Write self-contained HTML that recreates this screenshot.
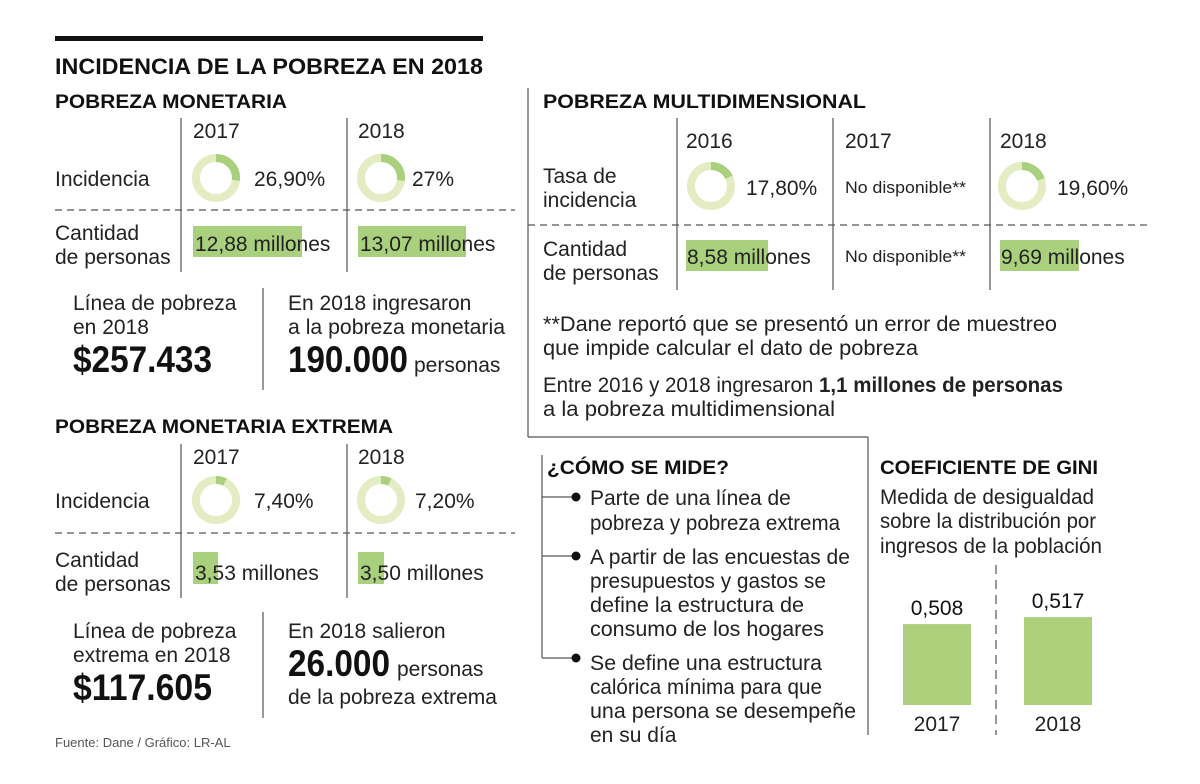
<!DOCTYPE html>
<html><head><meta charset="utf-8"><style>
html,body{margin:0;padding:0;background:#fff;}
svg{display:block;font-family:"Liberation Sans",sans-serif;}
.t{font-size:21px;fill:#222;}
.b{font-weight:bold;fill:#111;}
</style></head><body>
<svg id="g" width="1200" height="784" viewBox="0 0 1200 784">
<rect x="55" y="36" width="428" height="5" fill="#111"/>
<text class="b" x="55" y="74" font-size="22" textLength="428" lengthAdjust="spacingAndGlyphs">INCIDENCIA DE LA POBREZA EN 2018</text>
<text class="b" x="55" y="108" font-size="19" textLength="232" lengthAdjust="spacingAndGlyphs">POBREZA MONETARIA</text>
<g stroke="#555" stroke-width="1.2">
<line x1="181" y1="118" x2="181" y2="272"/><line x1="347" y1="118" x2="347" y2="272"/>
<line x1="55" y1="210" x2="515" y2="210" stroke-dasharray="7,5"/>
<line x1="263" y1="288" x2="263" y2="390"/>
<line x1="181" y1="444" x2="181" y2="598"/><line x1="347" y1="444" x2="347" y2="598"/>
<line x1="55" y1="533" x2="515" y2="533" stroke-dasharray="7,5"/>
<line x1="263" y1="612" x2="263" y2="718"/>
<line x1="528" y1="88" x2="528" y2="437"/><line x1="528" y1="437" x2="868" y2="437"/><line x1="868" y1="437" x2="868" y2="735"/>
<line x1="677" y1="118" x2="677" y2="290"/><line x1="833" y1="118" x2="833" y2="290"/><line x1="990" y1="118" x2="990" y2="290"/>
<line x1="528" y1="225" x2="1150" y2="225" stroke-dasharray="7,5"/>
<line x1="542" y1="455" x2="542" y2="658"/>
<line x1="542" y1="497" x2="572" y2="497"/><line x1="542" y1="556" x2="572" y2="556"/><line x1="542" y1="658" x2="572" y2="658"/>
<line x1="996" y1="565" x2="996" y2="735" stroke-dasharray="9,6"/>
</g>
<g fill="#111"><circle cx="576" cy="497" r="4.5"/><circle cx="576" cy="556" r="4.5"/><circle cx="576" cy="658" r="4.5"/></g>
<g id="hl" fill="#a9d07c"></g>
<g id="donuts"></g>
<g id="gini"></g>
<g class="t">
<text x="193" y="138">2017</text><text x="358" y="138">2018</text>
<text x="55" y="186">Incidencia</text>
<text x="254" y="186">26,90%</text><text x="412" y="186">27%</text>
<text x="55" y="240">Cantidad</text><text x="55" y="264">de personas</text>
<text x="195" y="251">12,88 millones</text><text x="360" y="251">13,07 millones</text>
<text x="73" y="310">Línea de pobreza</text><text x="73" y="334">en 2018</text>
<text x="73" y="372" font-size="37" font-weight="bold" fill="#111" textLength="139" lengthAdjust="spacingAndGlyphs">$257.433</text>
<text x="288" y="310">En 2018 ingresaron</text><text x="288" y="334" textLength="217" lengthAdjust="spacingAndGlyphs">a la pobreza monetaria</text>
<text x="288" y="372" font-size="37" font-weight="bold" fill="#111" textLength="120" lengthAdjust="spacingAndGlyphs">190.000</text>
<text x="414" y="372">personas</text>
<text x="193" y="464">2017</text><text x="358" y="464">2018</text>
<text x="55" y="508">Incidencia</text>
<text x="254" y="508">7,40%</text><text x="415" y="508">7,20%</text>
<text x="55" y="567">Cantidad</text><text x="55" y="591">de personas</text>
<text x="195" y="580">3,53 millones</text><text x="360" y="580">3,50 millones</text>
<text x="73" y="638">Línea de pobreza</text><text x="73" y="662">extrema en 2018</text>
<text x="73" y="700" font-size="37" font-weight="bold" fill="#111" textLength="139" lengthAdjust="spacingAndGlyphs">$117.605</text>
<text x="288" y="638">En 2018 salieron</text>
<text x="288" y="676" font-size="37" font-weight="bold" fill="#111" textLength="102" lengthAdjust="spacingAndGlyphs">26.000</text>
<text x="397" y="676">personas</text>
<text x="288" y="704">de la pobreza extrema</text>
<text x="686" y="148">2016</text><text x="845" y="148">2017</text><text x="1000" y="148">2018</text>
<text x="543" y="183">Tasa de</text><text x="543" y="207">incidencia</text>
<text x="746" y="195">17,80%</text><text x="1057" y="195">19,60%</text>
<text x="845" y="193" font-size="17" textLength="121" lengthAdjust="spacingAndGlyphs">No disponible**</text>
<text x="543" y="256">Cantidad</text><text x="543" y="280">de personas</text>
<text x="687" y="264">8,58 millones</text><text x="1001" y="264">9,69 millones</text>
<text x="845" y="262" font-size="17" textLength="121" lengthAdjust="spacingAndGlyphs">No disponible**</text>
<text x="543" y="331" textLength="514" lengthAdjust="spacingAndGlyphs">**Dane reportó que se presentó un error de muestreo</text>
<text x="543" y="355" textLength="375" lengthAdjust="spacingAndGlyphs">que impide calcular el dato de pobreza</text>
<text x="543" y="392" textLength="520" lengthAdjust="spacingAndGlyphs">Entre 2016 y 2018 ingresaron <tspan font-weight="bold">1,1 millones de personas</tspan></text>
<text x="543" y="416" textLength="292" lengthAdjust="spacingAndGlyphs">a la pobreza multidimensional</text>
<text x="590" y="505">Parte de una línea de</text>
<text x="590" y="530" textLength="250" lengthAdjust="spacingAndGlyphs">pobreza y pobreza extrema</text>
<text x="590" y="564" textLength="260" lengthAdjust="spacingAndGlyphs">A partir de las encuestas de</text>
<text x="590" y="588" textLength="236" lengthAdjust="spacingAndGlyphs">presupuestos y gastos se</text>
<text x="590" y="612" textLength="214" lengthAdjust="spacingAndGlyphs">define la estructura de</text>
<text x="590" y="636" textLength="234" lengthAdjust="spacingAndGlyphs">consumo de los hogares</text>
<text x="590" y="670" textLength="232" lengthAdjust="spacingAndGlyphs">Se define una estructura</text>
<text x="590" y="694" textLength="232" lengthAdjust="spacingAndGlyphs">calórica mínima para que</text>
<text x="590" y="718" textLength="266" lengthAdjust="spacingAndGlyphs">una persona se desempeñe</text>
<text x="590" y="742">en su día</text>
<text x="880" y="504" textLength="214" lengthAdjust="spacingAndGlyphs">Medida de desigualdad</text>
<text x="880" y="528" textLength="216" lengthAdjust="spacingAndGlyphs">sobre la distribución por</text>
<text x="880" y="553" textLength="222" lengthAdjust="spacingAndGlyphs">ingresos de la población</text>
</g>
<text class="b" x="55" y="433" font-size="19" textLength="338" lengthAdjust="spacingAndGlyphs">POBREZA MONETARIA EXTREMA</text>
<text class="b" x="543" y="108" font-size="19" textLength="323" lengthAdjust="spacingAndGlyphs">POBREZA MULTIDIMENSIONAL</text>
<text class="b" x="547" y="474" font-size="19" textLength="182" lengthAdjust="spacingAndGlyphs">¿CÓMO SE MIDE?</text>
<text class="b" x="880" y="474" font-size="19" textLength="218" lengthAdjust="spacingAndGlyphs">COEFICIENTE DE GINI</text>
<text x="55" y="747" font-size="13" fill="#555">Fuente: Dane / Gráfico: LR-AL</text>
</svg>
<script>
const donutValues = [26.9, 27, 7.4, 7.2, 17.8, 19.6];
const donutCx = [216, 381, 216, 381, 711, 1022];
const donutCy = [178, 178, 500, 500, 186, 186];
const giniYears = ["2017", "2018"];
const giniValues = [0.508, 0.517];
const giniLabels = ["0,508", "0,517"];
const NS = "http://www.w3.org/2000/svg";
function mk(tag, attrs, parent){const e=document.createElementNS(NS,tag);for(const k in attrs)e.setAttribute(k,attrs[k]);parent.appendChild(e);return e;}
const dg=document.getElementById('donuts');
donutValues.forEach((v,i)=>{
  const r=20, cx=donutCx[i], cy=donutCy[i];
  const c=mk('circle',{cx:cx,cy:cy,r:r,fill:'none',stroke:'#e3ecc2','stroke-width':8},dg);
  
  
  const a=v/100*2*Math.PI;
  const x2=cx+r*Math.sin(a), y2=cy-r*Math.cos(a);
  const p=mk('path',{d:`M${cx},${cy-r} A${r},${r} 0 ${a>Math.PI?1:0} 1 ${x2},${y2}`,fill:'none',stroke:'#a9d07c','stroke-width':8},dg);
  
  
});
const hl=document.getElementById('hl');
[[193,226,109,31],[358,226,108,31],[193,552,25,32],[358,552,26,32],[686,240,82,31],[1000,240,79,31]].forEach(r=>{
  const e=mk('rect',{x:r[0],y:r[1],width:r[2],height:r[3]},hl);
  
  
});
const gg=document.getElementById('gini');
const base=705, yMin=0.404, pxPer=778;
const yScale=v=>base-(v-yMin)*pxPer;
const xPos=i=>903+i*121;
giniValues.forEach((v,i)=>{
  const b=mk('rect',{x:xPos(i),y:yScale(v),width:68,height:base-yScale(v),fill:'#acd07c'},gg);
  
  
  const t=mk('text',{x:xPos(i)+34,y:yScale(v)-9,'text-anchor':'middle','font-size':21,fill:'#111'},gg);
  t.textContent=giniLabels[i];
  
  
  const y=mk('text',{x:xPos(i)+34,y:731,'text-anchor':'middle','font-size':21,fill:'#222'},gg);
  y.textContent=giniYears[i];
  
  
});
</script>
</body></html>
